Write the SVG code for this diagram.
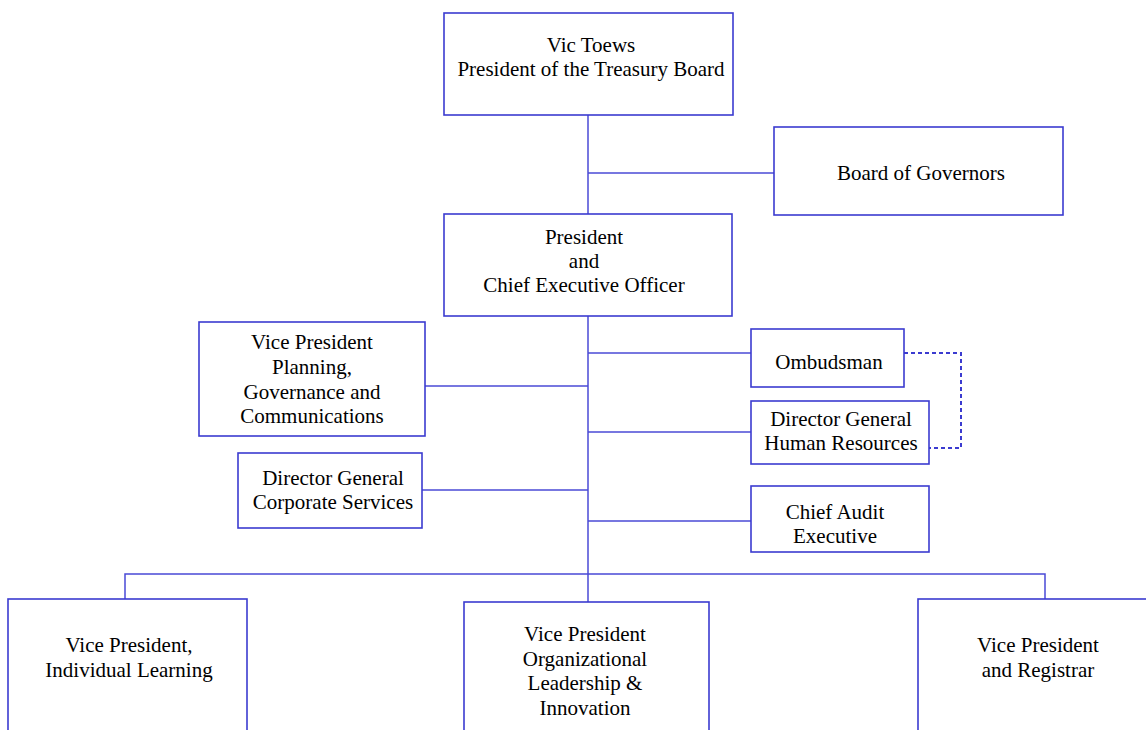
<svg xmlns="http://www.w3.org/2000/svg" width="1146" height="730" viewBox="0 0 1146 730">
<style>
.box{fill:#fff;stroke:#3b3bd0;stroke-width:1.6}
.ln{fill:none;stroke:#4a4ad6;stroke-width:1.5}
.dash{fill:none;stroke:#3b3bd0;stroke-width:2;stroke-dasharray:4 3}
</style>
<rect width="1146" height="730" fill="#fff"/>
<g id="connectors">
<line class="ln" x1="588" y1="115" x2="588" y2="214"/>
<line class="ln" x1="588" y1="173" x2="774" y2="173"/>
<line class="ln" x1="588" y1="316" x2="588" y2="602"/>
<line class="ln" x1="588" y1="353" x2="751" y2="353"/>
<line class="ln" x1="425" y1="386" x2="588" y2="386"/>
<line class="ln" x1="588" y1="432" x2="751" y2="432"/>
<line class="ln" x1="422" y1="490" x2="588" y2="490"/>
<line class="ln" x1="588" y1="521" x2="751" y2="521"/>
<polyline class="ln" points="125,599 125,574 1045,574 1045,599"/>
<polyline class="dash" points="904,353 961,353 961,448 929,448"/>
</g>
<g font-family="'Liberation Serif', 'Times New Roman', 'DejaVu Serif', serif" font-size="21" fill="#000" text-anchor="middle">
<g id="node-treasury">
<rect class="box" x="444" y="13" width="289" height="102"/>
<text x="591" y="52">Vic Toews</text>
<text x="591" y="76">President of the Treasury Board</text>
</g>
<g id="node-board">
<rect class="box" x="774" y="127" width="289" height="88"/>
<text x="921" y="180">Board of Governors</text>
</g>
<g id="node-ceo">
<rect class="box" x="444" y="214" width="288" height="102"/>
<text x="584" y="244">President</text>
<text x="584" y="268">and</text>
<text x="584" y="292">Chief Executive Officer</text>
</g>
<g id="node-vp-planning">
<rect class="box" x="199" y="322" width="226" height="114"/>
<text x="312" y="349">Vice President</text>
<text x="312" y="374">Planning,</text>
<text x="312" y="399">Governance and</text>
<text x="312" y="423">Communications</text>
</g>
<g id="node-dg-corporate">
<rect class="box" x="238" y="453" width="184" height="75"/>
<text x="333" y="485">Director General</text>
<text x="333" y="509">Corporate Services</text>
</g>
<g id="node-ombudsman">
<rect class="box" x="751" y="329" width="153" height="58"/>
<text x="829" y="369">Ombudsman</text>
</g>
<g id="node-dg-hr">
<rect class="box" x="751" y="401" width="178" height="63"/>
<text x="841" y="426">Director General</text>
<text x="841" y="450">Human Resources</text>
</g>
<g id="node-audit">
<rect class="box" x="751" y="486" width="178" height="66"/>
<text x="835" y="519">Chief Audit</text>
<text x="835" y="543">Executive</text>
</g>
<g id="node-vp-individual">
<rect class="box" x="8" y="599" width="239" height="140"/>
<text x="129" y="652">Vice President,</text>
<text x="129" y="677">Individual Learning</text>
</g>
<g id="node-vp-organizational">
<rect class="box" x="464" y="602" width="245" height="140"/>
<text x="585" y="641">Vice President</text>
<text x="585" y="666">Organizational</text>
<text x="585" y="690">Leadership &amp;</text>
<text x="585" y="715">Innovation</text>
</g>
<g id="node-vp-registrar">
<rect class="box" x="918" y="599" width="240" height="140"/>
<text x="1038" y="652">Vice President</text>
<text x="1038" y="677">and Registrar</text>
</g>
</g>
</svg>
